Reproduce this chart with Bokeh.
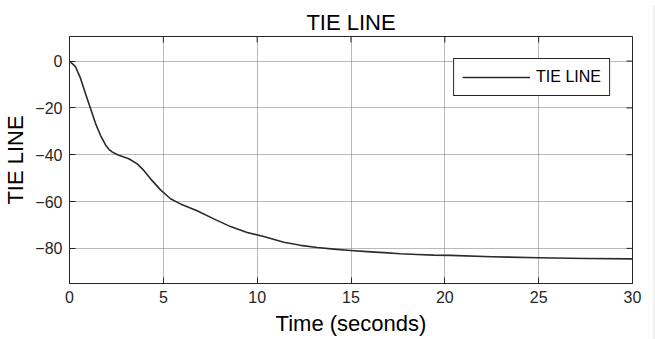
import math
from bokeh.plotting import figure
from bokeh.models import FixedTicker, Legend, LegendItem, Range1d, Div
from bokeh.layouts import row
from bokeh.embed import file_html
from bokeh.resources import INLINE

t = [0, 0.32, 0.59, 0.85, 1.12, 1.39, 1.65, 1.92, 2.1, 2.27, 2.45, 2.63, 3.16, 3.61, 3.96,
     4.32, 4.85, 5.38, 5.91, 6.8, 7.69, 8.58, 9.47, 10.35, 11.42, 12.31, 13.2, 14.08, 14.97,
     15.86, 16.75, 17.63, 18.52, 19.41, 20.3, 22.5, 25.0, 27.5, 30.0]
tie = [0, -2.4, -7.4, -13.8, -20.3, -26.7, -31.7, -35.8, -37.7, -38.8, -39.6, -40.2, -41.7,
       -43.9, -46.7, -50.3, -55.0, -58.8, -61.0, -63.9, -67.4, -70.7, -73.2, -74.9, -77.4,
       -78.7, -79.6, -80.3, -80.9, -81.4, -81.8, -82.3, -82.6, -82.9, -83.0, -83.6, -84.0,
       -84.3, -84.5]

x_ticks = [0, 5, 10, 15, 20, 25, 30]
y_ticks = [-80, -60, -40, -20, 0]
x_lim = (0, 30)
y_lim = (-95, 10.5)

FONT = "Liberation Sans"
AX = "#262626"

p = figure(width=648, height=339, output_backend="svg", toolbar_location=None,
           x_range=Range1d(*x_lim), y_range=Range1d(*y_lim),
           min_border_left=69, min_border_right=16, min_border_top=36, min_border_bottom=56)
p.title.text = "TIE LINE"
p.title.align = "center"
p.title.text_font = FONT
p.title.text_font_size = "22px"
p.title.text_font_style = "normal"
p.title.text_color = "#000000"
p.title.standoff = 4

line = p.line(t, tie, line_color="#2b2b2b", line_width=1.6, line_join="round")

for ax in (p.xaxis[0], p.yaxis[0]):
    ax.major_tick_in = 6
    ax.major_tick_out = 0
    ax.minor_tick_line_color = None
    ax.axis_line_color = AX
    ax.major_tick_line_color = AX
    ax.major_label_text_font = FONT
    ax.major_label_text_font_size = "16px"
    ax.major_label_text_color = AX
    ax.axis_label_text_font = FONT
    ax.axis_label_text_font_size = "22px"
    ax.axis_label_text_font_style = "normal"
    ax.axis_label_text_color = "#000000"

p.xaxis.ticker = FixedTicker(ticks=x_ticks)
p.yaxis.ticker = FixedTicker(ticks=y_ticks)
p.xaxis.axis_label = "Time (seconds)"
p.yaxis.axis_label = "TIE LINE"
p.xaxis.major_label_standoff = 7
p.yaxis.major_label_standoff = 7
p.xaxis.axis_label_standoff = 5
p.yaxis.axis_label_standoff = 4

# ticks on top and right edges of the box (pointing inward)
p.scatter(x_ticks, [y_lim[1]] * len(x_ticks), marker="dash", angle=math.pi / 2, size=12,
          line_color=AX, line_width=1)
p.scatter([x_lim[1]] * len(y_ticks), y_ticks, marker="dash", angle=0, size=12,
          line_color=AX, line_width=1)

p.xgrid.ticker = FixedTicker(ticks=x_ticks)
p.ygrid.ticker = FixedTicker(ticks=y_ticks)
p.grid.grid_line_color = "#7f7f7f"
p.grid.grid_line_alpha = 0.55
p.outline_line_color = AX
p.outline_line_alpha = 1.0

legend = Legend(items=[LegendItem(label="TIE LINE", renderers=[line])], location="top_right")
legend.label_text_font = FONT
legend.label_text_font_size = "16px"
legend.label_text_color = "#000000"
legend.border_line_color = AX
legend.border_line_alpha = 1.0
legend.glyph_width = 68
legend.glyph_height = 20
legend.label_height = 20
legend.label_standoff = 6
legend.margin = 22
legend.padding = 8
legend.spacing = 0
p.add_layout(legend)

strip = Div(width=7, height=339, styles={"background-color": "#f0f0f0"})
layout = row(p, strip, spacing=0)

open("out.html", "w").write(file_html(layout, INLINE))
